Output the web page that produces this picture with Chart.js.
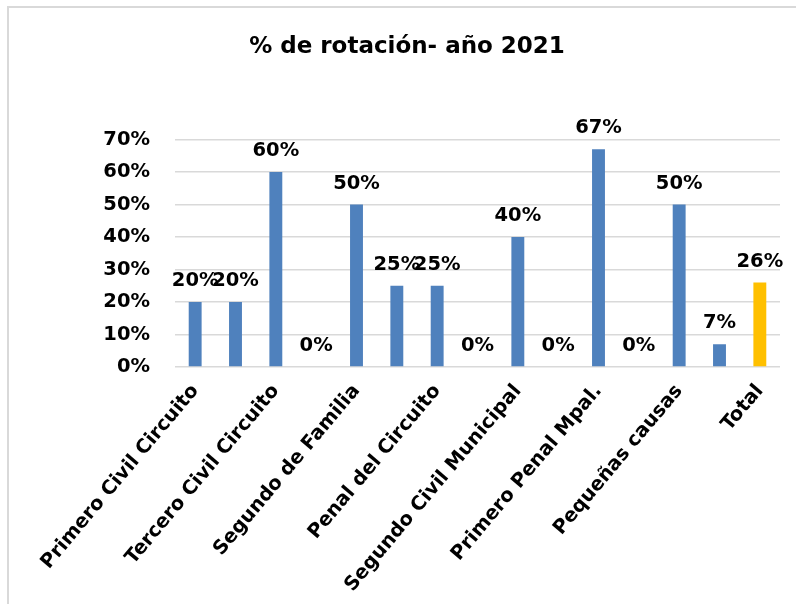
<!DOCTYPE html>
<html lang="es">
<head>
<meta charset="utf-8">
<title>% de rotación- año 2021</title>
<script src="https://cdn.jsdelivr.net/npm/chart.js@4.4.1/dist/chart.umd.min.js"></script>
<style>
    html, body { margin: 0; padding: 0; background: #fff; overflow: hidden; }
    #wrap { position: relative; width: 796px; height: 604px; }
    #marco { position: absolute; left: 7px; top: 6px; width: 900px; height: 700px; border: 2px solid #d9d9d9; }
    #grafico { position: absolute; left: 0; top: 0; }
</style>
</head>
<body>
<div id="wrap">
    <div id="marco"></div>
    <canvas id="grafico" width="796" height="604"></canvas>
</div>
<script>
// Datos del gráfico
const despachos = [
    'Primero Civil Circuito',
    'Segundo Civil Circuito',
    'Tercero Civil Circuito',
    'Primero de Familia',
    'Segundo de Familia',
    'Tercero de Familia',
    'Penal del Circuito',
    'Primero Civil Municipal',
    'Segundo Civil Municipal',
    'Tercero Civil Municipal',
    'Primero Penal Mpal.',
    'Segundo Penal Mpal.',
    'Pequeñas causas',
    'Promiscuo Municipal',
    'Total'
];
const rotacion = [20, 20, 60, 0, 50, 25, 25, 0, 40, 0, 67, 0, 50, 7, 26];
const coloresBarras = ['#4F81BD', '#4F81BD', '#4F81BD', '#4F81BD', '#4F81BD', '#4F81BD', '#4F81BD',
    '#4F81BD', '#4F81BD', '#4F81BD', '#4F81BD', '#4F81BD', '#4F81BD', '#4F81BD', '#FFC000'];
const ticksY = [0, 10, 20, 30, 40, 50, 60, 70];

const FUENTE = "'DejaVu Sans', sans-serif";

// Etiquetas de valor encima de cada barra
const etiquetasValor = {
    id: 'etiquetasValor',
    afterDatasetsDraw(chart) {
        const ctx = chart.ctx;
        const meta = chart.getDatasetMeta(0);
        ctx.save();
        ctx.font = 'bold 19.5px ' + FUENTE;
        ctx.fillStyle = '#000';
        ctx.textAlign = 'center';
        ctx.textBaseline = 'alphabetic';
        meta.data.forEach((barra, i) => {
            const valor = chart.data.datasets[0].data[i];
            ctx.fillText(valor + '%', barra.x, barra.y - 16);
        });
        ctx.restore();
    }
};

new Chart(document.getElementById('grafico'), {
    type: 'bar',
    data: {
        labels: despachos,
        datasets: [{
            data: rotacion,
            backgroundColor: coloresBarras,
            borderWidth: 0,
            categoryPercentage: 0.8,
            barPercentage: 0.4
        }]
    },
    options: {
        responsive: false,
        animation: false,
        layout: {
            padding: { left: 34, right: 16, top: 0, bottom: 0 }
        },
        plugins: {
            legend: { display: false },
            tooltip: { enabled: false },
            title: {
                display: true,
                text: '% de rotación- año 2021',
                color: '#000',
                font: { family: FUENTE, size: 23, weight: 'bold' },
                padding: { top: 33, bottom: 79 }
            }
        },
        scales: {
            x: {
                grid: { display: false },
                border: { display: false },
                ticks: {
                    color: '#000',
                    font: { family: FUENTE, size: 19.5, weight: 'bold' },
                    autoSkip: false,
                    minRotation: 50,
                    maxRotation: 50,
                    padding: 5,
                    callback: function(valor, i) {
                        // Solo se muestra uno de cada dos nombres
                        return i % 2 === 0 ? this.getLabelForValue(valor) : '';
                    }
                },
                afterFit: (escala) => {
                    escala.height = 237;
                    escala.paddingLeft = 0;
                    escala.paddingRight = 0;
                }
            },
            y: {
                min: 0,
                max: 70,
                afterBuildTicks: (escala) => {
                    escala.ticks = ticksY.map(v => ({ value: v }));
                },
                grid: { color: '#d9d9d9', lineWidth: 1.5, drawTicks: false },
                border: { display: false },
                ticks: {
                    color: '#000',
                    font: { family: FUENTE, size: 19.5, weight: 'bold' },
                    padding: 25,
                    callback: (v) => v + '%'
                },
                afterFit: (escala) => {
                    escala.width = 141;
                }
            }
        }
    },
    plugins: [etiquetasValor]
});
</script>
</body>
</html>
